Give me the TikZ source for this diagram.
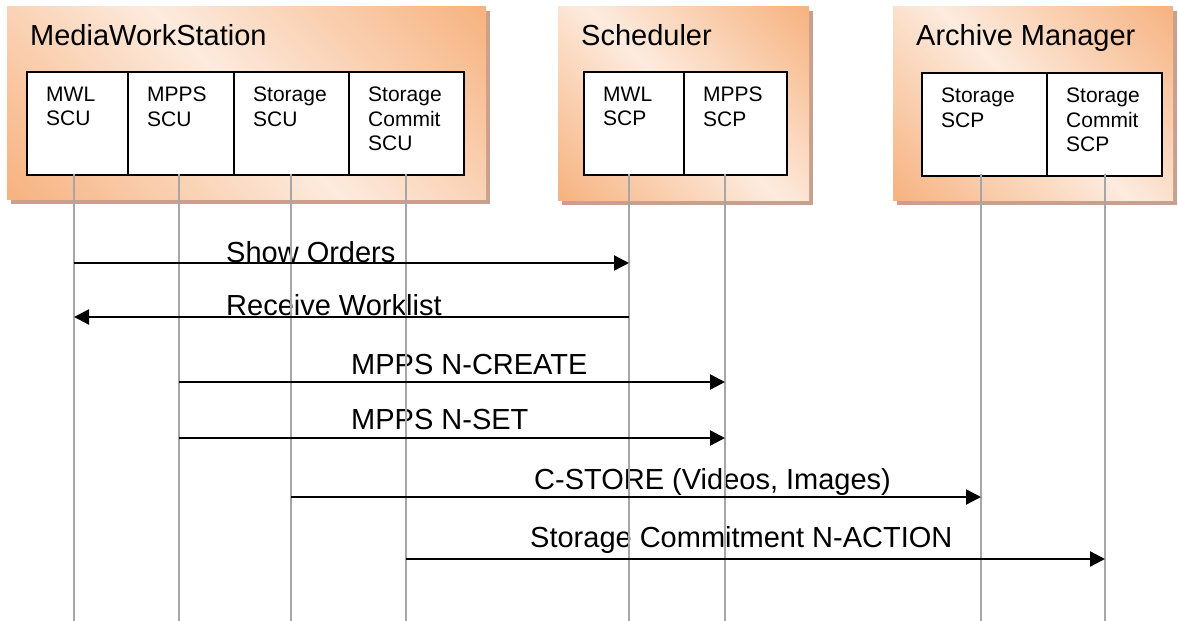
\documentclass[tikz,border=0pt]{standalone}
\usepackage{fontspec}
\setmainfont{Liberation Sans}
\usetikzlibrary{arrows.meta,shadows}

\definecolor{boxdark}{RGB}{246,174,120}
\definecolor{boxlight}{RGB}{253,235,222}
\definecolor{boxshadow}{RGB}{201,160,141}
\definecolor{lifegray}{RGB}{166,166,166}

\pgfdeclareverticalshading{sysshade}{100bp}{color(0bp)=(boxdark); color(12bp)=(boxdark); color(50bp)=(boxlight); color(88bp)=(boxdark); color(100bp)=(boxdark)}

\tikzset{
  sysbox/.style={anchor=north west, inner sep=0pt,
    shade, shading=sysshade, shading angle=-45,
    drop shadow={shadow xshift=4pt, shadow yshift=-5pt, fill=boxshadow, opacity=1}},
  systitle/.style={anchor=base west, inner sep=0pt, font=\fontsize{29}{34}\selectfont},
  unitbox/.style={anchor=north west, draw=black, line width=2pt, fill=white, inner sep=0pt},
  unittext/.style={anchor=north west, inner sep=0pt, align=left, font=\fontsize{21}{24.5}\selectfont},
  lifeline/.style={draw=lifegray, line width=2pt},
  msg/.style={line width=2.4pt, -{Triangle[length=15pt,width=15pt]}},
  msglabel/.style={anchor=base west, inner sep=0pt, font=\fontsize{29}{34}\selectfont},
}

\begin{document}
\begin{tikzpicture}[x=1pt, y=-1pt]
  \useasboundingbox (0,0) rectangle (1178,621);
  % systems
  \foreach \n/\x/\w/\h/\t in {mws/7/479/193/MediaWorkStation, sched/558/251/194/Scheduler, arch/893/280/194/Archive Manager}{
    \node[sysbox, minimum width=\w pt, minimum height=\h pt] (\n) at (\x,6) {};
    \node[systitle] (\n title) at ([xshift=23pt, yshift=-39pt]\n.north west) {\t};
  }
  % service classes
  \foreach \n/\x/\y/\w/\t in {mwlscu/26/71/101/{MWL\\SCU}, mppsscu/127/71/106/{MPPS\\SCU}, stscu/233/71/115/{Storage\\SCU}, stcscu/348/71/115/{Storage\\Commit\\SCU}, mwlscp/583/71/100/{MWL\\SCP}, mppsscp/683/71/103/{MPPS\\SCP}, stscp/921/72/125/{Storage\\SCP}, stcscp/1046/72/115/{Storage\\Commit\\SCP}}{
    \node[unitbox, minimum width=\w pt, minimum height=103pt] (\n) at (\x,\y) {};
    \node[unittext] (\n text) at ([xshift=20pt, yshift=-15.7pt]\n.north west) {\t};
  }
  % message texts
  \foreach \i/\x/\y/\t in {1/226/262/Show Orders, 2/226/315/Receive Worklist, 3/351/374/MPPS N-CREATE, 4/351/429/MPPS N-SET, 5/534/489/{C-STORE (Videos, Images)}, 6/530/547/Storage Commitment N-ACTION}{
    \node[msglabel] (lab\i) at (\x,\y) {\t};
  }
  % lifelines
  \foreach \n/\x in {mwlscu/74, mppsscu/179, stscu/291, stcscu/406, mwlscp/629, mppsscp/725, stscp/981, stcscp/1105}{
    \coordinate (\n top) at (\x,174);
    \coordinate (\n end) at (\x,621);
    \draw[lifeline] (\n top) -- (\n end);
  }
  % messages
  \foreach \a/\b/\y in {mwlscu/mwlscp/263, mwlscp/mwlscu/317, mppsscu/mppsscp/382, mppsscu/mppsscp/438, stscu/stscp/497, stcscu/stcscp/559}{
    \draw[msg] (\a top |- 0,\y) -- (\b top |- 0,\y);
  }
\end{tikzpicture}
\end{document}
